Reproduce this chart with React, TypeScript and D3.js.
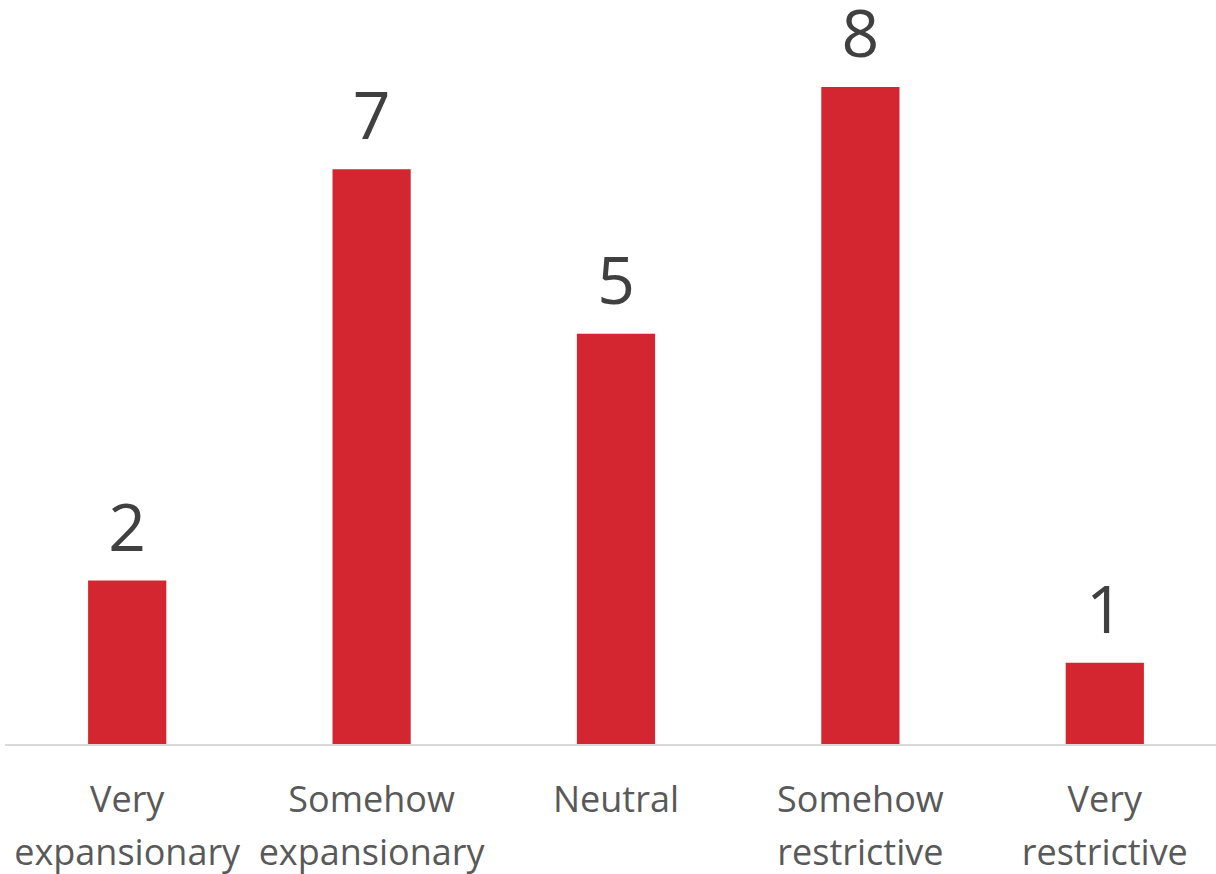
import React from "react";
import * as d3 from "d3";

const categories: string[][] = [
  ["Very", "expansionary"],
  ["Somehow", "expansionary"],
  ["Neutral"],
  ["Somehow", "restrictive"],
  ["Very", "restrictive"],
];
const values: number[] = [2, 7, 5, 8, 1];

const W = 1216;
const H = 874;
const baseY = 745;

export default function App() {
  const keys = categories.map((_, i) => String(i));
  const x = d3
    .scaleBand<string>()
    .domain(keys)
    .range([5, 1227])
    .paddingInner(0.68)
    .paddingOuter(0.34);
  const y = d3.scaleLinear().domain([0, 8]).range([baseY, 87]);
  const font = "'Open Sans', 'DejaVu Sans', sans-serif";
  return (
    <svg
      width={W}
      height={H}
      style={{ position: "absolute", left: 0, top: 0, background: "#fff" }}
    >
      {values.map((v, i) => {
        const bx = x(String(i))!;
        const cx = bx + x.bandwidth() / 2;
        return (
          <g key={i}>
            <rect
              x={bx}
              y={y(v)}
              width={x.bandwidth()}
              height={baseY - y(v)}
              fill="#D42630"
            />
            <text
              x={cx}
              y={y(v) - 30}
              textAnchor="middle"
              fontFamily={font}
              fontSize={66}
              fill="#404040"
            >
              {v}
            </text>
          </g>
        );
      })}
      <line x1={5} x2={1216} y1={baseY} y2={baseY} stroke="#D9D9D9" strokeWidth={2} />
      {categories.map((lines, i) => {
        const cx = x(String(i))! + x.bandwidth() / 2;
        return (
          <text
            key={i}
            textAnchor="middle"
            fontFamily={font}
            fontSize={36}
            fill="#595959"
          >
            {lines.map((l, j) => (
              <tspan key={j} x={cx} y={812 + j * 53}>
                {l}
              </tspan>
            ))}
          </text>
        );
      })}
    </svg>
  );
}
